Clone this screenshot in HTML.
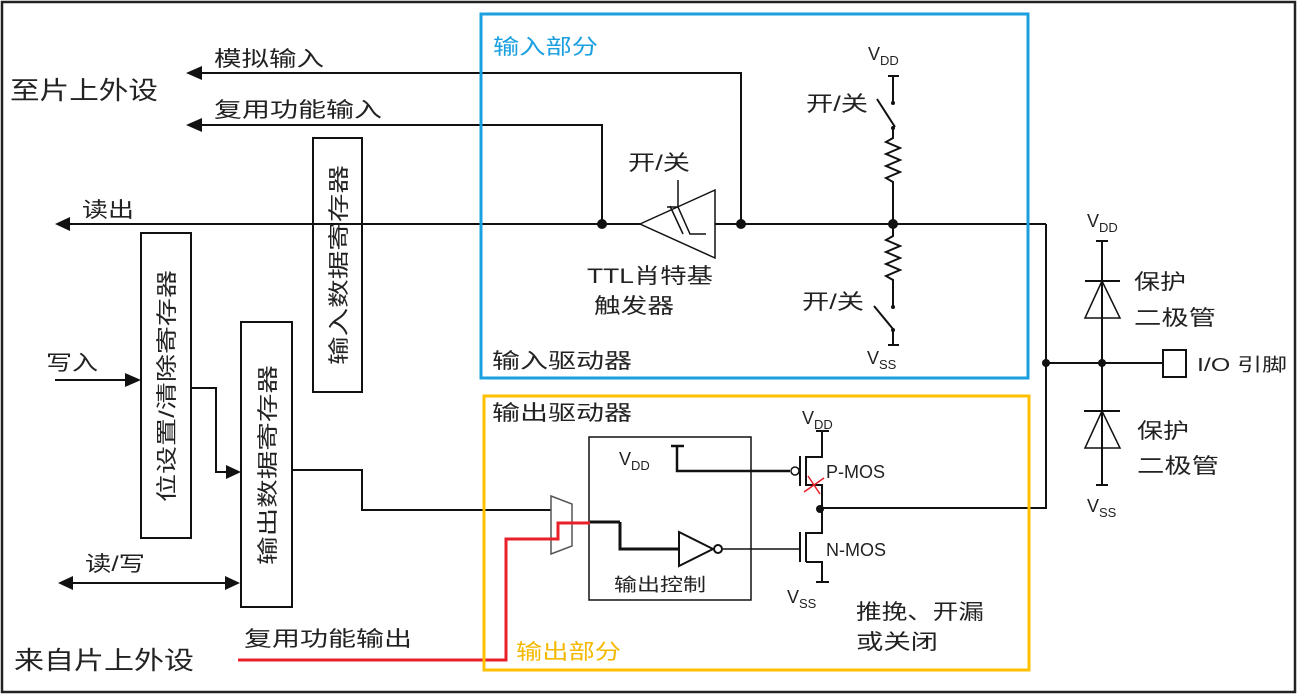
<!DOCTYPE html>
<html><head><meta charset="utf-8"><style>
html,body{margin:0;padding:0;background:#fff}
svg{display:block}
text{font-family:"Liberation Sans","Noto Sans CJK SC",sans-serif;fill:#222}
</style></head><body>
<svg width="1298" height="695" viewBox="0 0 1298 695" xmlns="http://www.w3.org/2000/svg">
<rect x="2" y="2" width="1293" height="690" fill="none" stroke="#222" stroke-width="2.5"/>
<defs>
<marker id="ah" markerWidth="10" markerHeight="10" refX="0" refY="5" orient="auto" markerUnits="userSpaceOnUse"><path d="M0,0 L0,10 L0,10 Z" /></marker>
</defs>
<g stroke="#111" stroke-width="2" fill="none">
<!-- boxes -->
<rect x="313" y="138" width="49" height="254"/>
<rect x="141" y="233" width="50" height="305"/>
<rect x="241" y="322" width="51" height="285"/>
<rect x="589" y="437" width="162" height="163" stroke-width="1.5"/>
<!-- lines -->
<polyline points="200,73 741,73 741,224"/>
<polyline points="200,125 602,125 602,224"/>
<line x1="70" y1="224" x2="640" y2="224"/>
<line x1="715" y1="224" x2="1046" y2="224"/>
<polyline points="1046,224 1046,508 822,508"/>
<line x1="1046" y1="363" x2="1163" y2="363"/>
<line x1="55" y1="380" x2="130" y2="380"/>
<line x1="72" y1="583" x2="228" y2="583"/>
<polyline points="191,388 216,388 216,472 230,472"/>
<polyline points="292,470 362,470 362,510 551,510"/>
<!-- schmitt -->
<polygon points="640,224 715,190 715,258" stroke-width="1.5"/>
<line x1="678" y1="180" x2="678" y2="207" stroke-width="1.5"/>
<polyline points="667,207 678,207 690,234 706,234" stroke-width="1.5"/>
<polyline points="670,206 683,234" stroke-width="1.5"/>
<!-- pull up -->
<line x1="888" y1="76" x2="899" y2="76"/>
<line x1="893" y1="76" x2="893" y2="103"/>
<line x1="877" y1="99" x2="895" y2="127"/>
<polyline points="893,128 893,138 886,142 900,148 886,154 900,160 886,166 900,172 886,178 893,182 893,224" stroke-width="2"/>
<polyline points="893,224 893,236 886,240 900,246 886,252 900,258 886,264 900,270 886,276 893,280 893,307" stroke-width="2"/>
<line x1="874" y1="306" x2="893" y2="329"/>
<line x1="893" y1="330" x2="893" y2="345"/>
<line x1="888" y1="345" x2="899" y2="345"/>
<!-- diodes -->
<line x1="1096" y1="241" x2="1108" y2="241"/>
<line x1="1102" y1="241" x2="1102" y2="485"/>
<line x1="1085" y1="281" x2="1120" y2="281"/>
<line x1="1084" y1="411" x2="1120" y2="411"/>
<line x1="1096" y1="485" x2="1108" y2="485"/>
<rect x="1163" y="350" width="23" height="27"/>
<!-- output control -->
<polyline points="671,446 684,446" stroke-width="2.5"/>
<polyline points="677,446 677,471 790,471" stroke-width="2.5"/>
<polyline points="620,522 620,549 679,549" stroke-width="3"/>
<line x1="723" y1="549" x2="800" y2="549" stroke-width="1.5"/>
<line x1="751" y1="471" x2="790" y2="471" stroke-width="1.5"/>
<polygon points="679,532 679,566 713,549" stroke-width="2"/>
<circle cx="718" cy="549" r="4" stroke-width="2"/>
<!-- PMOS -->
<circle cx="795" cy="471" r="4" stroke-width="1.5"/>
<line x1="800" y1="456" x2="800" y2="486" stroke-width="2"/>
<line x1="806" y1="456" x2="806" y2="486" stroke-width="2"/>
<polyline points="806,457 822,457 822,431" stroke-width="2"/>
<line x1="816" y1="431" x2="829" y2="431"/>
<polyline points="806,485 822,485 822,509" stroke-width="2"/>
<!-- NMOS -->
<line x1="800" y1="532" x2="800" y2="562" stroke-width="2"/>
<line x1="806" y1="532" x2="806" y2="562" stroke-width="2"/>
<polyline points="806,533 822,533 822,508" stroke-width="2"/>
<polyline points="806,562 822,562 822,582" stroke-width="2"/>
<line x1="816" y1="582" x2="829" y2="582"/>
<!-- mux -->
<polygon points="551,496 572,504 572,546 551,554" stroke="#555" stroke-width="1.5"/>
<line x1="590" y1="522" x2="620" y2="522" stroke-width="3"/>
</g>
<!-- red path -->
<polyline points="238,660 506,660 506,539 558,539 558,523 590,523" fill="none" stroke="#e8202a" stroke-width="3"/>
<line x1="804" y1="492" x2="824" y2="478" stroke="#e8202a" stroke-width="1.5"/>
<line x1="808" y1="476" x2="820" y2="494" stroke="#e8202a" stroke-width="1.5"/>
<!-- colored boxes -->
<rect x="481" y="14" width="547" height="364" fill="none" stroke="#1a9fe0" stroke-width="3"/>
<rect x="484" y="396" width="545" height="274" fill="none" stroke="#ffc000" stroke-width="3"/>
<!-- arrows -->
<g fill="#111">
<polygon points="186,73 202,66 202,80"/>
<polygon points="186,125 202,118 202,132"/>
<polygon points="55,224 70,217 70,231"/>
<polygon points="141,380 125,373 125,387"/>
<polygon points="241,472 226,465 226,479"/>
<polygon points="58,583 73,576 73,590"/>
<polygon points="240,583 225,576 225,590"/>
<polygon points="1102,281 1085,318 1120,318" fill="none" stroke="#111" stroke-width="1.5"/>
<polygon points="1102,411 1085,448 1120,448" fill="none" stroke="#111" stroke-width="1.5"/>
<circle cx="602" cy="224" r="5"/><circle cx="741" cy="224" r="5"/><circle cx="893" cy="224" r="5"/>
<circle cx="1046" cy="363" r="4"/><circle cx="1102" cy="363" r="4"/><circle cx="820" cy="509" r="4"/>
<circle cx="893" cy="103" r="2"/><circle cx="893" cy="128" r="2"/><circle cx="893" cy="307" r="2"/><circle cx="893" cy="330" r="2"/>
</g>
<!-- text -->
<g font-size="21">
<text x="10" y="99" textLength="148" lengthAdjust="spacingAndGlyphs" font-size="25">至片上外设</text>
<text x="14" y="669" textLength="180" lengthAdjust="spacingAndGlyphs" font-size="25">来自片上外设</text>
<text x="214" y="66" textLength="110" lengthAdjust="spacingAndGlyphs">模拟输入</text>
<text x="214" y="117" textLength="168" lengthAdjust="spacingAndGlyphs">复用功能输入</text>
<text x="82" y="217" textLength="52" lengthAdjust="spacingAndGlyphs">读出</text>
<text x="46" y="370" textLength="52" lengthAdjust="spacingAndGlyphs">写入</text>
<text x="85" y="571" textLength="60" lengthAdjust="spacingAndGlyphs">读/写</text>
<text x="244" y="646" textLength="168" lengthAdjust="spacingAndGlyphs">复用功能输出</text>
<text x="493" y="54" fill="#1a9fe0" style="fill:#1a9fe0" textLength="105" lengthAdjust="spacingAndGlyphs">输入部分</text>
<text x="516" y="659" style="fill:#f5b800" textLength="105" lengthAdjust="spacingAndGlyphs">输出部分</text>
<text x="492" y="368" textLength="140" lengthAdjust="spacingAndGlyphs">输入驱动器</text>
<text x="492" y="420" textLength="140" lengthAdjust="spacingAndGlyphs">输出驱动器</text>
<text x="628" y="170" textLength="62" lengthAdjust="spacingAndGlyphs">开/关</text>
<text x="587" y="283" textLength="126" lengthAdjust="spacingAndGlyphs">TTL肖特基</text>
<text x="594" y="313" textLength="80" lengthAdjust="spacingAndGlyphs">触发器</text>
<text x="806" y="111" textLength="62" lengthAdjust="spacingAndGlyphs">开/关</text>
<text x="802" y="309" textLength="62" lengthAdjust="spacingAndGlyphs">开/关</text>
<text x="1134" y="289" textLength="52" lengthAdjust="spacingAndGlyphs">保护</text>
<text x="1134" y="325" textLength="82" lengthAdjust="spacingAndGlyphs">二极管</text>
<text x="1137" y="438" textLength="52" lengthAdjust="spacingAndGlyphs">保护</text>
<text x="1137" y="473" textLength="82" lengthAdjust="spacingAndGlyphs">二极管</text>
<text x="1197" y="371" textLength="90" lengthAdjust="spacingAndGlyphs" font-size="18">I/O 引脚</text>
<text x="856" y="619" textLength="128" lengthAdjust="spacingAndGlyphs">推挽、开漏</text>
<text x="856" y="649" textLength="82" lengthAdjust="spacingAndGlyphs">或关闭</text>
<text x="614" y="591" font-size="18" textLength="92" lengthAdjust="spacingAndGlyphs">输出控制</text>
</g>
<g font-size="18">
<text x="868" y="60">V<tspan font-size="13" dy="5">DD</tspan></text>
<text x="867" y="364">V<tspan font-size="13" dy="5">SS</tspan></text>
<text x="1087" y="227">V<tspan font-size="13" dy="5">DD</tspan></text>
<text x="1087" y="512">V<tspan font-size="13" dy="5">SS</tspan></text>
<text x="619" y="465">V<tspan font-size="13" dy="5">DD</tspan></text>
<text x="802" y="424">V<tspan font-size="13" dy="5">DD</tspan></text>
<text x="787" y="603">V<tspan font-size="13" dy="5">SS</tspan></text>
<text x="826" y="478">P-MOS</text>
<text x="826" y="556">N-MOS</text>
</g>
<g font-size="21">
<text transform="translate(346,365) rotate(-90)" textLength="200" lengthAdjust="spacingAndGlyphs">输入数据寄存器</text>
<text transform="translate(174,502) rotate(-90)" textLength="232" lengthAdjust="spacingAndGlyphs">位设置/清除寄存器</text>
<text transform="translate(275,565) rotate(-90)" textLength="200" lengthAdjust="spacingAndGlyphs">输出数据寄存器</text>
</g>
</svg>
</body></html>
